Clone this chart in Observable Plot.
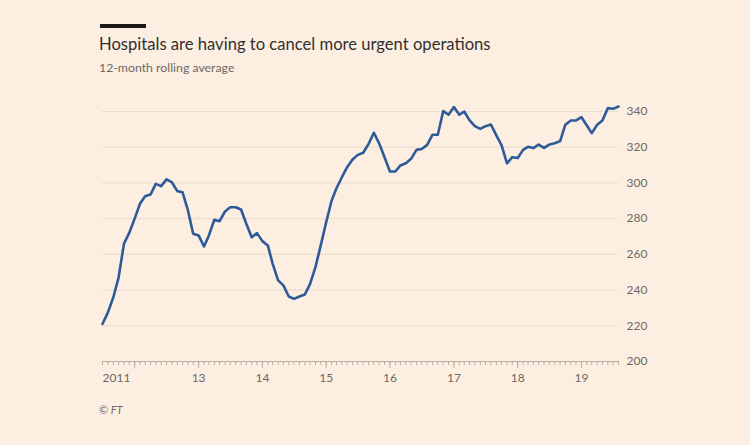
<!DOCTYPE html>
<html>
<head>
<meta charset="utf-8">
<script src="https://cdn.jsdelivr.net/npm/d3@7"></script>
<script src="https://cdn.jsdelivr.net/npm/@observablehq/plot@0.6"></script>
<style>
  html, body { margin: 0; padding: 0; background: #fcefe2; }
  #wrap { position: relative; width: 750px; height: 445px; overflow: hidden; font-family: Lato, "Noto Sans", sans-serif; }
  #bar { position: absolute; left: 100px; top: 24px; width: 46px; height: 4px; background: #1a1817; }
  #title { position: absolute; left: 99px; top: 34px; font-size: 16.6px; line-height: 20px; color: #33302e; white-space: nowrap; }
  #subtitle { position: absolute; left: 99px; top: 61px; font-size: 12.3px; line-height: 14px; color: #6f6862; white-space: nowrap; }
  #chart { position: absolute; left: 0; top: 90px; }
  #source { position: absolute; left: 99px; top: 403px; font-size: 11px; font-style: italic; color: #6f6862; }
</style>
</head>
<body>
<div id="wrap">
  <div id="bar"></div>
  <div id="title">Hospitals are having to cancel more urgent operations</div>
  <div id="subtitle">12-month rolling average</div>
  <div id="chart"></div>
  <div id="source">© FT</div>
</div>
<script>
// Cancelled urgent operations, 12-month rolling average, monthly from July 2011
const firstMonth = "2011-07-01";
const values = [
  221, 227.5, 236, 247, 266, 272, 280, 288.5, 292.5, 293.5, 299.5, 298.2,
  302, 300.4, 295.4, 294.8, 284.6, 271.5, 270.6, 264.4, 270.6, 279.4, 278.6, 284,
  286.4, 286.4, 285.1, 277.1, 269.6, 271.9, 267.4, 265, 254.7, 245.4, 242.6, 236.4,
  235.1, 236.4, 237.5, 243.5, 253, 265, 278, 290, 297, 303.2, 308.8, 313.1,
  315.7, 316.9, 321.9, 328.1, 322, 314.4, 306.4, 306.4, 309.8, 311, 313.5, 318.5,
  319, 321.3, 327, 327, 340.3, 338.2, 342.5, 338.2, 340, 335, 331.8, 330.3,
  331.8, 332.7, 326.6, 321, 311, 314.4, 314, 318.5, 320.2, 319.5, 321.5, 319.6,
  321.5, 322.2, 323.4, 332.6, 335, 335, 336.8, 332.2, 327.9, 332.6, 335, 341.9,
  341.5, 342.8
];
const yTicks = [200, 220, 240, 260, 280, 300, 320, 340];
const yearTicks = [2012, 2013, 2014, 2015, 2016, 2017, 2018, 2019];
const yearLabels = ["", "13", "14", "15", "16", "17", "18", "19"];
const startLabel = "2011";

const start = new Date(firstMonth);
const data = values.map((v, i) => ({ date: d3.utcMonth.offset(start, i), value: v }));
const end = data[data.length - 1].date;
const monthTicks = d3.utcMonth.range(start, d3.utcMonth.offset(end, 1));
const yearDates = yearTicks.map(y => new Date(Date.UTC(y, 0, 1)));

const tickColor = "#b9ada2";
const labelColor = "#6f6862";

const chart = Plot.plot({
  width: 750,
  height: 305,
  marginTop: 21,
  marginBottom: 34,
  marginLeft: 102,
  marginRight: 132,
  style: { background: "transparent", fontFamily: "Lato, 'Noto Sans', sans-serif", fontSize: "12px", color: labelColor },
  x: { type: "utc", domain: [start, end] },
  y: { domain: [200, 340] },
  marks: [
    Plot.gridY(yTicks, { stroke: "#eadccd", strokeOpacity: 1, strokeWidth: 1 }),
    Plot.axisX(monthTicks, { tickSize: 4, tickFormat: () => "", stroke: tickColor }),
    Plot.axisX(yearDates, {
      tickSize: 7,
      tickPadding: 5,
      stroke: tickColor,
      fill: labelColor,
      tickFormat: (d) => yearLabels[yearTicks.indexOf(d.getUTCFullYear())]
    }),
    Plot.text([startLabel], { x: () => start, y: () => 200, text: d => d, textAnchor: "start", lineAnchor: "top", dy: 12, fill: labelColor }),
    Plot.ruleY([200], { stroke: tickColor }),
    Plot.axisY(yTicks, { anchor: "right", tickSize: 0, tickPadding: 8, label: null, fill: labelColor }),
    Plot.line(data, { x: "date", y: "value", stroke: "#2e5b98", strokeWidth: 2.6, strokeLinejoin: "round", strokeLinecap: "round" })
  ]
});
document.getElementById("chart").appendChild(chart);
</script>
</body>
</html>
